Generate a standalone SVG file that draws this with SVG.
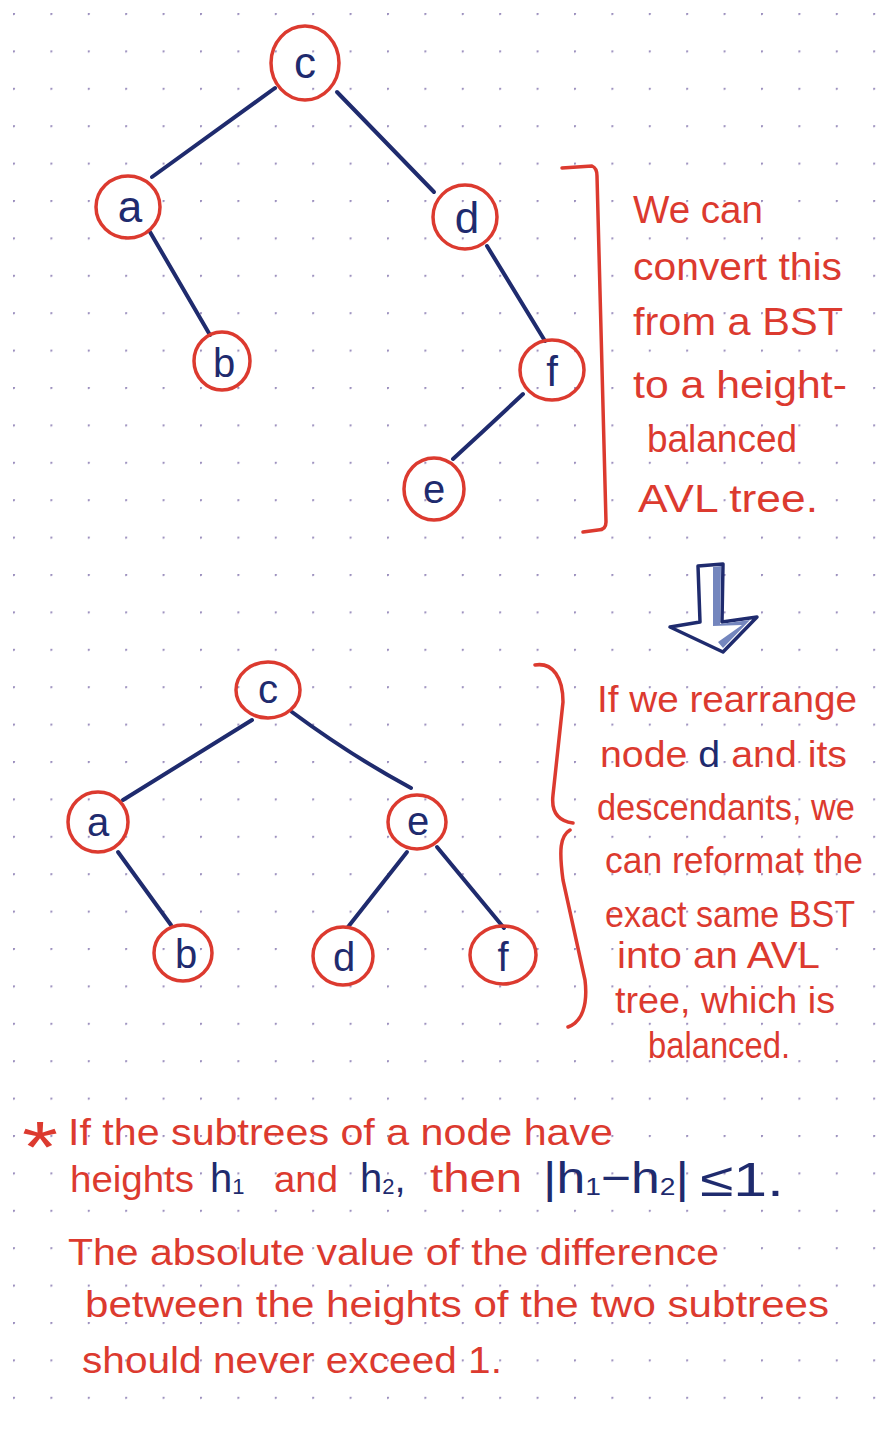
<svg xmlns="http://www.w3.org/2000/svg" width="880" height="1432" viewBox="0 0 880 1432">
<defs>
<pattern id="dots" x="13" y="13" width="37.4" height="37.4" patternUnits="userSpaceOnUse">
<circle cx="0.8" cy="0.8" r="1.3" fill="#7a6aa8" opacity="0.75"/>
</pattern>
<style>
.node{fill:none;stroke:#dc3a2f;stroke-width:3.5}
.lbl{font-family:"Liberation Sans",Arial,sans-serif;fill:#1f2b6e;text-anchor:middle}
.edge{fill:none;stroke:#1f2b6e;stroke-width:4;stroke-linecap:round}
.rt{font-family:"Liberation Sans",Arial,sans-serif;fill:#dc3a2f}
.bt{fill:#1f2b6e}
.brk{fill:none;stroke:#dc3a2f;stroke-width:3.5;stroke-linecap:round;stroke-linejoin:round}
</style>
</defs>
<rect width="880" height="1432" fill="#ffffff"/>
<rect width="880" height="1432" fill="url(#dots)"/>

<g id="connectors">
<path class="edge" d="M275,88 L152,177"/>
<path class="edge" d="M337,92 L434,192"/>
<path class="edge" d="M150,232 L210,335"/>
<path class="edge" d="M487,246 L545,341"/>
<path class="edge" d="M523,394 Q490,425 453,459"/>
<path class="edge" d="M252,720 L123,800"/>
<path class="edge" d="M292,712 Q350,755 411,788"/>
<path class="edge" d="M118,852 L171,925"/>
<path class="edge" d="M407,852 L348,927"/>
<path class="edge" d="M437,847 L504,928"/>
</g>

<g id="top-c"><ellipse class="node" cx="305" cy="63" rx="34" ry="37"/><text class="lbl" x="305" y="78" font-size="44">c</text></g>
<g id="top-a"><ellipse class="node" cx="128" cy="207" rx="32" ry="31"/><text class="lbl" x="130" y="222" font-size="44">a</text></g>
<g id="top-d"><ellipse class="node" cx="465" cy="217" rx="32" ry="32"/><text class="lbl" x="467" y="233" font-size="44">d</text></g>
<g id="top-b"><ellipse class="node" cx="222" cy="361" rx="28" ry="29"/><text class="lbl" x="224" y="377" font-size="40">b</text></g>
<g id="top-f"><ellipse class="node" cx="552" cy="370" rx="32" ry="30"/><text class="lbl" x="552" y="386" font-size="42">f</text></g>
<g id="top-e"><ellipse class="node" cx="434" cy="489" rx="30" ry="31"/><text class="lbl" x="434" y="503" font-size="40">e</text></g>

<g id="bracket-top"><path class="brk" d="M562,168 L592,166 Q597,168 597,176 L606,522 Q606,530 598,530 L583,532"/></g>
<g id="note-top">
<text class="rt" font-size="38" x="633" y="223" textLength="130" lengthAdjust="spacingAndGlyphs">We can</text>
<text class="rt" font-size="38" x="633" y="280" textLength="209" lengthAdjust="spacingAndGlyphs">convert this</text>
<text class="rt" font-size="38" x="633" y="335" textLength="210" lengthAdjust="spacingAndGlyphs">from a BST</text>
<text class="rt" font-size="38" x="633" y="398" textLength="214" lengthAdjust="spacingAndGlyphs">to a height-</text>
<text class="rt" font-size="38" x="647" y="452" textLength="150" lengthAdjust="spacingAndGlyphs">balanced</text>
<text class="rt" font-size="38" x="638" y="512" textLength="180" lengthAdjust="spacingAndGlyphs">AVL tree.</text>
</g>

<g id="arrow">
<polygon points="698,566 723,564 722,622 757,617 723,652 670,627 700,622" fill="#ffffff" stroke="#1f2b6e" stroke-width="3.5" stroke-linejoin="round"/>
<polygon points="713,567 721,566 720,624 750,620 723,648 718,642 742,625 713,626" fill="#7486be"/>
</g>

<g id="bot-c"><ellipse class="node" cx="268" cy="690" rx="32" ry="28"/><text class="lbl" x="268" y="703" font-size="40">c</text></g>
<g id="bot-a"><ellipse class="node" cx="98" cy="822" rx="30" ry="30"/><text class="lbl" x="98" y="836" font-size="40">a</text></g>
<g id="bot-e"><ellipse class="node" cx="417" cy="822" rx="29" ry="27"/><text class="lbl" x="418" y="835" font-size="40">e</text></g>
<g id="bot-b"><ellipse class="node" cx="183" cy="953" rx="29" ry="28"/><text class="lbl" x="186" y="968" font-size="40">b</text></g>
<g id="bot-d"><ellipse class="node" cx="343" cy="956" rx="30" ry="29"/><text class="lbl" x="344" y="971" font-size="40">d</text></g>
<g id="bot-f"><ellipse class="node" cx="503" cy="955" rx="33" ry="29"/><text class="lbl" x="503" y="971" font-size="40">f</text></g>

<g id="brace"><path class="brk" d="M535,665 C553,662 563,678 563,702 L553,795 C551,812 558,821 573,823"/><path class="brk" d="M570,830 C560,836 559,850 563,880 L585,980 C588,1005 582,1022 568,1027"/></g>
<g id="note-bottom">
<text class="rt" font-size="36" x="597" y="712" textLength="260" lengthAdjust="spacingAndGlyphs">If we rearrange</text>
<text class="rt" font-size="36" x="600" y="767" textLength="247" lengthAdjust="spacingAndGlyphs">node <tspan class="bt">d</tspan> and its</text>
<text class="rt" font-size="36" x="597" y="820" textLength="258" lengthAdjust="spacingAndGlyphs">descendants, we</text>
<text class="rt" font-size="36" x="605" y="873" textLength="258" lengthAdjust="spacingAndGlyphs">can reformat the</text>
<text class="rt" font-size="36" x="605" y="927" textLength="250" lengthAdjust="spacingAndGlyphs">exact same BST</text>
<text class="rt" font-size="36" x="617" y="968" textLength="203" lengthAdjust="spacingAndGlyphs">into an AVL</text>
<text class="rt" font-size="36" x="615" y="1013" textLength="220" lengthAdjust="spacingAndGlyphs">tree, which is</text>
<text class="rt" font-size="36" x="648" y="1058" textLength="142" lengthAdjust="spacingAndGlyphs">balanced.</text>
</g>

<g id="definition">
<text class="rt" font-size="72" x="22" y="1172" textLength="36" lengthAdjust="spacingAndGlyphs">*</text>
<text class="rt" font-size="36" x="68" y="1145" textLength="545" lengthAdjust="spacingAndGlyphs">If the subtrees of a node have</text>
<text class="rt" font-size="36" x="70" y="1192" textLength="124" lengthAdjust="spacingAndGlyphs">heights</text>
<text class="rt bt" font-size="40" x="210" y="1192">h<tspan font-size="22" dy="2">1</tspan></text>
<text class="rt" font-size="36" x="274" y="1192" textLength="64" lengthAdjust="spacingAndGlyphs">and</text>
<text class="rt bt" font-size="40" x="360" y="1192">h<tspan font-size="22" dy="2">2</tspan><tspan dy="-2">,</tspan></text>
<text class="rt" font-size="40" x="430" y="1192" textLength="92" lengthAdjust="spacingAndGlyphs">then</text>
<text class="rt bt" font-size="44" x="543" y="1193" textLength="146" lengthAdjust="spacingAndGlyphs">|h<tspan font-size="24" dy="2">1</tspan><tspan dy="-2">−h</tspan><tspan font-size="24" dy="2">2</tspan><tspan dy="-2">|</tspan></text>
<text class="rt bt" font-size="48" x="700" y="1196" textLength="84" lengthAdjust="spacingAndGlyphs">≤1.</text>
<text class="rt" font-size="36" x="68" y="1265" textLength="651" lengthAdjust="spacingAndGlyphs">The absolute value of the difference</text>
<text class="rt" font-size="36" x="85" y="1317" textLength="744" lengthAdjust="spacingAndGlyphs">between the heights of the two subtrees</text>
<text class="rt" font-size="36" x="82" y="1373" textLength="420" lengthAdjust="spacingAndGlyphs">should never exceed 1.</text>
</g>
</svg>
